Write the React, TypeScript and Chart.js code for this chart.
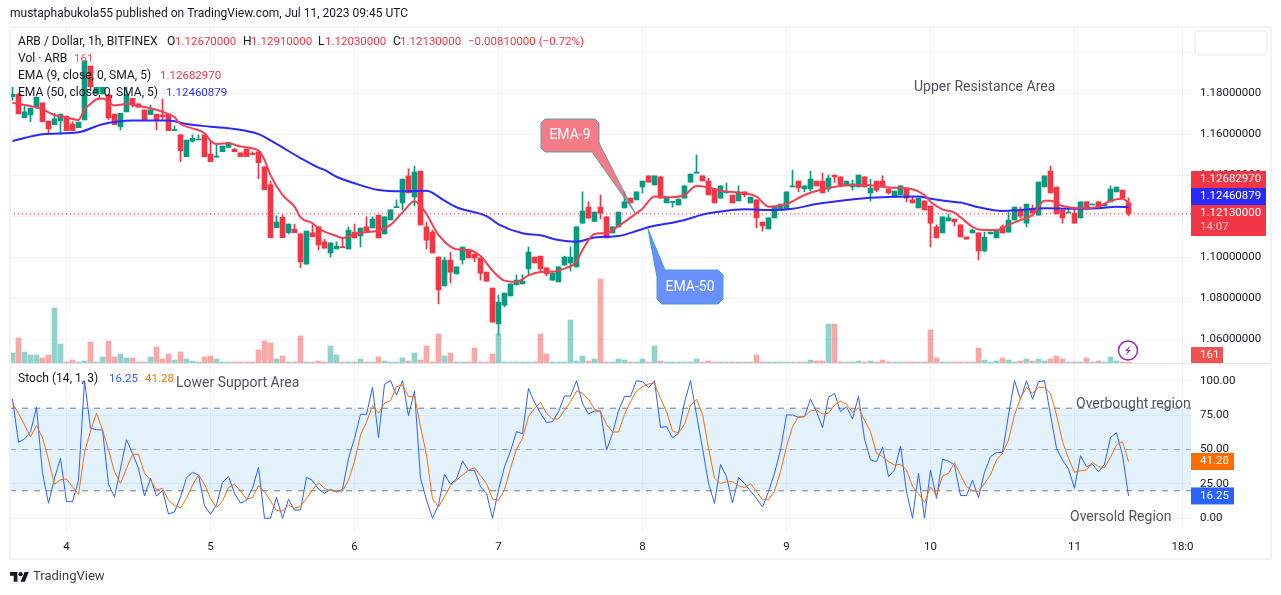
import React, { useEffect, useRef } from "react";
import { Chart, registerables } from "chart.js";

Chart.register(...registerables);

const opens = [
1.1785,1.1796,1.1682,1.1695,1.1736,1.1754,1.1666,1.1648,1.1668,1.1690,
1.1651,1.1633,1.1671,1.1934,1.1798,1.1798,1.1793,1.1700,1.1638,1.1710,
1.1776,1.1749,1.1720,1.1697,1.1700,1.1695,1.1700,1.1619,1.1598,1.1492,
1.1568,1.1573,1.1598,1.1505,1.1489,1.1516,1.1537,1.1528,1.1510,1.1529,
1.1507,1.1516,1.1442,1.1354,1.1146,1.1196,1.1121,1.1139,1.1115,1.0968,
1.1120,1.1149,1.1076,1.1022,1.1042,1.1053,1.1042,1.1124,1.1105,1.1149,
1.1144,1.1207,1.1115,1.1183,1.1243,1.1266,1.1398,1.1295,1.1422,1.1149,
1.1124,1.1002,1.0861,1.0988,1.0920,1.0988,1.1037,1.1017,1.0998,1.0929,
1.0851,1.0676,1.0768,1.0812,1.0866,1.0871,1.0944,1.1002,1.1007,1.0949,
1.0890,1.0881,1.0963,1.0973,1.0954,1.1168,1.1246,1.1176,1.1246,1.1198,
1.1120,1.1149,1.1242,1.1290,1.1281,1.1344,1.1398,1.1354,1.1393,1.1266,
1.1269,1.1256,1.1290,1.1368,1.1411,1.1398,1.1373,1.1334,1.1290,1.1316,
1.1305,1.1276,1.1320,1.1266,1.1281,1.1173,1.1139,1.1193,1.1232,1.1237,
1.1344,1.1373,1.1334,1.1334,1.1373,1.1373,1.1334,1.1402,1.1393,1.1354,
1.1344,1.1344,1.1393,1.1315,1.1373,1.1373,1.1334,1.1295,1.1305,1.1339,
1.1281,1.1242,1.1276,1.1251,1.1149,1.1120,1.1178,1.1188,1.1159,1.1100,
1.1120,1.1120,1.1032,1.1115,1.1095,1.1149,1.1124,1.1183,1.1232,1.1168,
1.1237,1.1207,1.1344,1.1422,1.1344,1.1232,1.1217,1.1217,1.1193,1.1271,
1.1256,1.1271,1.1251,1.1271,1.1320,1.1329,1.1267];
const highs = [
1.1830,1.1801,1.1736,1.1729,1.1783,1.1754,1.1666,1.1703,1.1700,1.1690,
1.1663,1.1661,1.1959,1.1934,1.1830,1.1830,1.1793,1.1700,1.1703,1.1830,
1.1776,1.1749,1.1720,1.1744,1.1700,1.1773,1.1700,1.1642,1.1598,1.1573,
1.1598,1.1598,1.1598,1.1565,1.1554,1.1544,1.1560,1.1533,1.1510,1.1529,
1.1516,1.1516,1.1442,1.1373,1.1203,1.1207,1.1163,1.1163,1.1115,1.1129,
1.1159,1.1149,1.1089,1.1071,1.1076,1.1094,1.1149,1.1163,1.1144,1.1198,
1.1198,1.1207,1.1198,1.1232,1.1281,1.1383,1.1432,1.1446,1.1422,1.1173,
1.1134,1.1002,1.1002,1.1027,1.0954,1.1051,1.1037,1.1017,1.0998,1.0929,
1.0851,1.0817,1.0827,1.0871,1.0915,1.0915,1.1051,1.1002,1.1007,1.0949,
1.0924,1.0954,1.1007,1.1051,1.1149,1.1320,1.1271,1.1222,1.1305,1.1198,
1.1149,1.1222,1.1320,1.1290,1.1320,1.1373,1.1398,1.1398,1.1393,1.1294,
1.1274,1.1285,1.1349,1.1407,1.1500,1.1398,1.1388,1.1334,1.1349,1.1363,
1.1305,1.1349,1.1320,1.1295,1.1281,1.1173,1.1193,1.1246,1.1261,1.1320,
1.1427,1.1373,1.1349,1.1422,1.1373,1.1412,1.1402,1.1402,1.1393,1.1373,
1.1378,1.1402,1.1393,1.1383,1.1373,1.1398,1.1334,1.1324,1.1349,1.1339,
1.1295,1.1290,1.1276,1.1251,1.1159,1.1198,1.1212,1.1188,1.1159,1.1100,
1.1139,1.1120,1.1124,1.1124,1.1134,1.1159,1.1222,1.1246,1.1246,1.1261,
1.1256,1.1368,1.1398,1.1446,1.1344,1.1232,1.1246,1.1246,1.1271,1.1271,
1.1261,1.1271,1.1261,1.1349,1.1344,1.1329,1.1291];
const lows = [
1.1768,1.1700,1.1682,1.1663,1.1728,1.1663,1.1606,1.1648,1.1601,1.1619,
1.1619,1.1633,1.1671,1.1817,1.1798,1.1798,1.1674,1.1648,1.1622,1.1710,
1.1733,1.1733,1.1671,1.1697,1.1622,1.1674,1.1619,1.1619,1.1468,1.1492,
1.1563,1.1573,1.1492,1.1468,1.1489,1.1516,1.1537,1.1516,1.1492,1.1492,
1.1500,1.1385,1.1331,1.1097,1.1146,1.1097,1.1115,1.1121,1.0949,1.0968,
1.1102,1.1037,1.1046,1.1002,1.1042,1.1048,1.1042,1.1095,1.1051,1.1129,
1.1144,1.1095,1.1115,1.1183,1.1243,1.1232,1.1315,1.1251,1.1159,1.1042,
1.1022,1.0773,1.0861,1.0876,1.0920,1.0968,1.0998,1.0978,1.0890,1.0885,
1.0685,1.0622,1.0759,1.0812,1.0866,1.0871,1.0915,1.0973,1.0934,1.0910,
1.0890,1.0881,1.0963,1.0934,1.0954,1.1168,1.1188,1.1176,1.1188,1.1095,
1.1120,1.1149,1.1242,1.1266,1.1281,1.1315,1.1368,1.1354,1.1290,1.1266,
1.1246,1.1256,1.1290,1.1368,1.1411,1.1373,1.1305,1.1266,1.1290,1.1313,
1.1266,1.1276,1.1295,1.1266,1.1144,1.1129,1.1139,1.1193,1.1232,1.1237,
1.1344,1.1320,1.1320,1.1324,1.1349,1.1315,1.1320,1.1368,1.1354,1.1354,
1.1329,1.1344,1.1344,1.1276,1.1320,1.1344,1.1310,1.1295,1.1305,1.1271,
1.1266,1.1242,1.1232,1.1051,1.1095,1.1120,1.1178,1.1154,1.1100,1.1090,
1.1120,1.0988,1.1027,1.1115,1.1095,1.1120,1.1124,1.1183,1.1193,1.1149,
1.1202,1.1207,1.1344,1.1315,1.1212,1.1168,1.1217,1.1168,1.1193,1.1237,
1.1256,1.1246,1.1251,1.1271,1.1320,1.1290,1.1203];
const closes = [
1.1796,1.1700,1.1710,1.1729,1.1783,1.1663,1.1627,1.1676,1.1700,1.1619,
1.1619,1.1661,1.1959,1.1833,1.1830,1.1830,1.1681,1.1648,1.1703,1.1793,
1.1749,1.1733,1.1671,1.1720,1.1671,1.1687,1.1619,1.1622,1.1521,1.1573,
1.1581,1.1578,1.1492,1.1468,1.1495,1.1544,1.1560,1.1516,1.1492,1.1492,
1.1503,1.1463,1.1331,1.1097,1.1173,1.1097,1.1163,1.1121,1.0978,1.1129,
1.1102,1.1061,1.1046,1.1071,1.1056,1.1048,1.1134,1.1095,1.1144,1.1129,
1.1188,1.1095,1.1198,1.1232,1.1246,1.1383,1.1315,1.1417,1.1159,1.1085,
1.1022,1.0842,1.0988,1.0929,1.0954,1.1051,1.0998,1.0998,1.0924,1.0885,
1.0685,1.0783,1.0827,1.0871,1.0890,1.0885,1.1027,1.0973,1.0944,1.0920,
1.0924,1.0954,1.1002,1.1002,1.1149,1.1227,1.1193,1.1222,1.1216,1.1095,
1.1149,1.1222,1.1271,1.1266,1.1320,1.1373,1.1368,1.1398,1.1290,1.1294,
1.1274,1.1285,1.1349,1.1407,1.1417,1.1373,1.1305,1.1266,1.1349,1.1320,
1.1266,1.1320,1.1306,1.1295,1.1193,1.1154,1.1193,1.1246,1.1261,1.1320,
1.1349,1.1339,1.1349,1.1383,1.1349,1.1315,1.1388,1.1393,1.1354,1.1373,
1.1359,1.1402,1.1344,1.1339,1.1329,1.1344,1.1315,1.1324,1.1349,1.1290,
1.1266,1.1290,1.1232,1.1168,1.1095,1.1198,1.1193,1.1173,1.1100,1.1090,
1.1134,1.1032,1.1100,1.1124,1.1134,1.1120,1.1183,1.1246,1.1202,1.1261,
1.1217,1.1368,1.1398,1.1315,1.1212,1.1193,1.1222,1.1168,1.1271,1.1237,
1.1261,1.1246,1.1261,1.1334,1.1344,1.1290,1.1213];
const volumes = [
1600,4000,1760,1280,1280,800,1280,8800,3040,160,
480,160,320,3360,160,960,3520,960,1440,800,
800,160,160,960,2560,640,1440,480,1760,640,
320,160,960,1120,640,160,160,160,160,160,
160,2080,3520,3200,640,1120,160,160,4320,160,
160,320,160,2720,1280,160,160,160,640,160,
160,960,320,160,160,800,320,1600,480,2720,
160,4640,1120,1600,160,160,160,2400,160,160,
1440,4640,160,160,160,160,160,160,4640,1440,
160,160,160,6880,320,1120,320,640,13440,160,
160,640,480,160,160,640,160,2720,320,160,
160,160,160,160,640,160,320,160,160,160,
160,160,160,160,1280,160,160,160,160,160,
160,160,160,480,320,320,6240,6240,160,160,
160,320,160,320,160,480,160,160,160,160,
160,160,160,5280,800,160,160,160,160,160,
160,2400,480,160,320,800,480,160,320,640,
320,640,320,640,1120,640,160,160,160,800,
160,320,160,960,320,160,161];
const ema9Bars = [0,1,3,5,7,9,11,12,13,14,15,17,19,21,23,25,27,28,30,32,33,34,36,38,41,42,43,45,47,48,50,51,52,54,55,57,59,61,63,65,67,69,70,71,74,76,78,80,82,84,86,88,90,92,94,95,97,99,101,104,105,107,110,112,114,116,118,121,124,126,129,132,135,138,142,146,150,152,153,155,157,158,160,161,164,166,168,170,172,173,175,178,181,183,185,186];
const ema9Values = [1.1755,1.1749,1.1739,1.1723,1.1695,1.1684,1.1671,1.1723,1.1749,1.1772,1.1776,1.1742,1.1749,1.1739,1.1728,1.1711,1.1684,1.1651,1.1630,1.1606,1.1570,1.1554,1.1557,1.1541,1.1521,1.1476,1.1402,1.1305,1.1248,1.1196,1.1167,1.1142,1.1126,1.1105,1.1095,1.1115,1.1124,1.1131,1.1159,1.1220,1.1274,1.1212,1.1159,1.1110,1.1040,1.1037,1.1007,1.0936,1.0887,1.0881,1.0913,1.0929,1.0931,1.0946,1.0980,1.1037,1.1115,1.1120,1.1154,1.1216,1.1238,1.1297,1.1294,1.1305,1.1349,1.1342,1.1326,1.1316,1.1297,1.1248,1.1261,1.1305,1.1333,1.1349,1.1354,1.1342,1.1333,1.1305,1.1272,1.1235,1.1219,1.1196,1.1150,1.1137,1.1134,1.1159,1.1183,1.1207,1.1277,1.1277,1.1251,1.1240,1.1248,1.1277,1.1287,1.12683];
const ema50Bars = [0,5,11,15,20,26,29,33,37,41,44,48,51,52,54,57,61,65,69,72,74,79,81,85,88,91,94,97,101,104,105,107,110,112,115,118,122,127,130,134,138,142,146,151,153,157,158,161,165,168,172,177,181,184,186];
const ema50Values = [1.1568,1.1601,1.1611,1.1650,1.1668,1.1668,1.1651,1.1638,1.1627,1.1602,1.1554,1.1485,1.1438,1.1427,1.1394,1.1362,1.1329,1.1323,1.1326,1.1277,1.1245,1.1202,1.1162,1.1118,1.1108,1.1085,1.1077,1.1098,1.1105,1.1129,1.1139,1.1155,1.1170,1.1183,1.1209,1.1224,1.1235,1.1232,1.1238,1.1261,1.1277,1.1289,1.1295,1.1297,1.1287,1.1271,1.1268,1.1245,1.1227,1.1232,1.1240,1.1238,1.1240,1.1248,1.12461];
const stochK = [
86.7,55.2,57.6,63.0,80.6,32.7,10.9,29.1,43.6,12.1,12.1,27.8,100,65.4,64.4,64.2,24.7,15.5,36.3,57.1,47.2,36.3,16.2,29.1,16.2,20.3,3.1,4.6,15.5,29.5,33.4,31.5,9.2,2.9,9.7,26.1,30.3,18.1,11.1,13.1,21.8,37.0,0,0,15.2,0,13.8,6.0,6.0,29.8,27.4,21.3,
18.1,21.1,19.1,21.1,43.6,58.1,75.6,75.6,95.2,58.6,97.4,100,89.6,100,74.6,92.5,29.1,13.3,0,9.7,32.0,24.7,28.6,41.6,34.9,34.9,23.0,18.1,0,20.6,37.5,48.9,63.0,61.5,94.4,84.3,76.3,69.7,70.2,77.5,88.9,88.9,100,83.5,75.8,78.0,78.0,49.6,61.7,78.0,88.6,88.6,100,
99.3,94.9,100,66.1,66.6,58.6,61.7,84.3,100,75.1,50.9,25.4,10.9,39.2,30.3,11.1,29.5,25.4,19.8,14.5,8.2,19.4,32.7,49.6,75.1,75.1,73.4,73.9,86.7,77.5,65.9,87.9,90.8,77.5,81.1,72.2,88.6,57.6,42.4,41.2,51.6,30.3,35.1,52.5,19.4,0,32.7,0,35.1,14.5,42.9,41.6,38.7,
16.5,16.5,27.8,15.0,33.4,44.8,47.9,47.9,75.1,100,86.5,100,86.5,99.3,100,75.1,50.9,42.4,35.8,21.8,45.5,37.5,39.2,33.9,39.2,58.8,62.2,46.0,16.25];
const stochD = [
83.5,76.3,67.8,59.1,67.3,58.6,42.4,24.7,28.1,28.6,23.0,17.4,47.9,63.4,76.3,64.2,49.6,33.9,25.4,36.3,46.5,46.5,32.7,27.8,20.6,21.8,13.1,9.2,7.7,14.5,24.2,31.5,24.7,14.5,7.7,12.6,22.3,24.7,19.8,14.0,15.0,23.7,19.4,12.6,5.6,5.3,9.7,7.3,8.5,14.5,20.6,25.9,
21.8,20.1,19.4,19.8,27.8,41.2,60.5,69.7,81.9,76.3,83.5,85.5,95.7,96.9,88.4,88.9,66.6,46.0,14.0,8.2,15.7,23.7,27.8,31.5,34.9,36.8,31.0,25.4,14.0,13.1,20.6,36.3,50.4,58.1,73.9,79.9,84.3,76.3,72.2,72.2,78.7,84.8,92.5,90.8,86.5,79.2,77.5,68.3,62.7,62.7,75.6,84.8,92.5,
95.7,97.6,98.1,87.2,77.5,63.4,62.0,68.3,81.9,86.5,75.6,50.9,29.1,25.2,26.6,26.6,23.7,22.3,25.2,19.4,13.5,13.5,19.8,33.9,52.1,66.6,73.9,73.9,78.0,78.7,75.8,76.3,82.3,85.2,82.8,77.0,80.4,71.4,63.0,47.2,44.8,41.2,38.7,39.2,35.1,23.0,18.1,11.6,22.8,16.9,30.7,32.7,40.4,
31.5,23.0,20.1,19.4,25.4,31.5,42.4,47.2,56.9,75.1,87.2,95.2,90.8,95.2,95.2,90.8,75.1,55.7,43.6,33.4,34.6,35.1,40.7,37.5,37.0,44.3,53.3,55.7,41.28];
const priceTicks = [1.06, 1.08, 1.1, 1.12, 1.14, 1.16, 1.18, 1.2];
const stochTicks = [0, 25, 50, 75, 100];
const stochLevels = [80, 50, 20];
const dayBars = [9, 33, 57, 81, 105, 129, 153, 177, 195];
const dayLabels = ["4", "5", "6", "7", "8", "9", "10", "11", "18:0"];

const UP = "#089981";
const DOWN = "#f23645";
const FONT = "Roboto";
const TXT = "#131722";
const GREY = "#50535e";
const LABEL = 12.1;
const NUM = 11.5;

const tone = { up: "rgba(38,166,154,0.5)", down: "rgba(239,83,80,0.5)" };

function text(ctx: CanvasRenderingContext2D, s: string, x: number, y: number, color: string, size = NUM, align: CanvasTextAlign = "left") {
  ctx.fillStyle = color;
  ctx.font = `${size}px ${FONT}`;
  ctx.textAlign = align;
  ctx.textBaseline = "middle";
  ctx.fillText(s, x, y);
}

function tag(ctx: CanvasRenderingContext2D, x: number, y: number, w: number, h: number, color: string) {
  ctx.fillStyle = color;
  ctx.fillRect(x, y, w, h);
}

function callout(ctx: CanvasRenderingContext2D, pts: number[][], fill: string, stroke: string) {
  ctx.beginPath();
  pts.forEach((p, i) => (i ? ctx.lineTo(p[0], p[1]) : ctx.moveTo(p[0], p[1])));
  ctx.closePath();
  ctx.lineJoin = "round";
  ctx.fillStyle = fill;
  ctx.fill();
  ctx.strokeStyle = stroke;
  ctx.lineWidth = 1;
  ctx.stroke();
}

const chrome = {
  id: "chrome",
  beforeDraw(chart: any) {
    const ctx = chart.ctx;
    ctx.save();
    ctx.fillStyle = "#ffffff";
    ctx.fillRect(0, 0, chart.width, chart.height);
    ctx.restore();
  },
  beforeDatasetsDraw(chart: any) {
    const { ctx, chartArea, scales } = chart;
    const t = scales.yStoch.getPixelForValue(stochLevels[0]);
    const b = scales.yStoch.getPixelForValue(stochLevels[2]);
    ctx.save();
    ctx.fillStyle = "rgba(33,150,243,0.12)";
    ctx.fillRect(chartArea.left, t, chartArea.right - chartArea.left, b - t);
    ctx.restore();
  },
  afterDraw(chart: any) {
    const { ctx, scales } = chart;
    ctx.save();
    // frame
    ctx.strokeStyle = "#f0f3fa";
    ctx.lineWidth = 2;
    ctx.strokeRect(10, 27, 1261, 532);
    ctx.strokeStyle = "#e0e3eb";
    ctx.lineWidth = 1;
    ctx.beginPath();
    ctx.moveTo(10, 363.5);
    ctx.lineTo(1271, 363.5);
    ctx.stroke();

    text(ctx, "mustaphabukola55 published on TradingView.com, Jul 11, 2023 09:45 UTC", 10, 14, TXT, 12);

    // legend
    text(ctx, "ARB / Dollar, 1h, BITFINEX", 18, 42, TXT, LABEL);
    [["O", 167, "1.12670000", 175], ["H", 243, "1.12910000", 251], ["L", 318, "1.12030000", 325], ["C", 393, "1.12130000", 400]].forEach((r: any) => {
      text(ctx, r[0], r[1], 42, TXT, LABEL);
      text(ctx, r[2], r[3], 42, DOWN);
    });
    text(ctx, "\u22120.00810000 (\u22120.72%)", 468, 42, DOWN);
    text(ctx, "Vol \u00b7 ARB", 18, 59, TXT, LABEL);
    text(ctx, "161", 74, 59, "#ef5350");
    text(ctx, "EMA (9, close, 0, SMA, 5)", 18, 76, TXT, LABEL);
    text(ctx, "1.12682970", 160, 76, DOWN);
    text(ctx, "EMA (50, close, 0, SMA, 5)", 18, 93, TXT, LABEL);
    text(ctx, "1.12460879", 166, 93, "#3030ff");
    text(ctx, "Stoch (14, 1, 3)", 18, 379, TXT, LABEL);
    text(ctx, "16.25", 109, 379, "#2962ff");
    text(ctx, "41.28", 145, 379, "#ff6d00");

    // drawn notes
    text(ctx, "Upper Resistance Area", 914, 87, GREY, 14);
    text(ctx, "Lower Support Area", 176, 383, GREY, 14);
    text(ctx, "Oversold Region", 1070, 517, GREY, 14);
    ctx.save();
    ctx.beginPath();
    ctx.rect(10, 364, 1181, 168);
    ctx.clip();
    text(ctx, "Overbought region", 1076, 404, GREY, 14);
    ctx.restore();

    callout(ctx, [[545, 119], [595, 119], [599, 123], [599, 143], [635, 213], [592, 152], [545, 152], [541, 148], [541, 123]], "rgba(242,90,105,0.8)", "#5f9ea8");
    text(ctx, "EMA-9", 570, 135, "#ffffff", 14, "center");
    callout(ctx, [[648, 229], [665, 270], [718, 270], [723, 275], [723, 299], [718, 304], [662, 304], [657, 299], [657, 277]], "rgba(80,125,255,0.85)", "#3ea0c8");
    text(ctx, "EMA-50", 690, 287, "#ffffff", 14, "center");

    // pinned box on the price scale
    ctx.fillStyle = "#ffffff";
    ctx.strokeStyle = "#eceef4";
    ctx.lineWidth = 1.5;
    ctx.beginPath();
    ctx.roundRect(1195, 31, 72, 24, 4);
    ctx.fill();
    ctx.stroke();

    // value tags
    tag(ctx, 1191, 171, 75, 17, DOWN);
    text(ctx, "1.12682970", 1200, 179.5, "#ffffff");
    tag(ctx, 1191, 188, 75, 17, "#2a2aff");
    text(ctx, "1.12460879", 1200, 196.5, "#ffffff");
    tag(ctx, 1191, 205, 75, 31, DOWN);
    text(ctx, closes[closes.length - 1].toFixed(8), 1200, 213.5, "#ffffff");
    text(ctx, "14:07", 1200, 227.5, "rgba(255,255,255,0.7)");
    tag(ctx, 1191, 347, 32, 16, "#ef5350");
    text(ctx, String(volumes[volumes.length - 1]), 1200, 355.5, "#ffffff");
    const yD = scales.yStoch.getPixelForValue(stochD[stochD.length - 1]);
    tag(ctx, 1191, yD - 8.5, 43, 17, "#ff6d00");
    text(ctx, stochD[stochD.length - 1].toFixed(2), 1200, yD, "#ffffff");
    const yK = scales.yStoch.getPixelForValue(stochK[stochK.length - 1]);
    tag(ctx, 1191, yK - 8.5, 43, 17, "#2962ff");
    text(ctx, stochK[stochK.length - 1].toFixed(2), 1200, yK, "#ffffff");

    // lightning badge
    ctx.strokeStyle = "#9c27b0";
    ctx.lineWidth = 1.5;
    ctx.beginPath();
    ctx.arc(1128, 350.5, 9.5, 0, Math.PI * 2);
    ctx.stroke();
    ctx.fillStyle = "#9c27b0";
    ctx.beginPath();
    [[1131, 345], [1125, 351], [1128, 351], [1125, 356], [1131, 350], [1128, 350]].forEach((p, i) => (i ? ctx.lineTo(p[0], p[1]) : ctx.moveTo(p[0], p[1])));
    ctx.closePath();
    ctx.fill();

    // footer logo
    ctx.save();
    ctx.translate(10, 570);
    ctx.scale(0.53, 0.53);
    ctx.fillStyle = "#131722";
    ctx.fill(new Path2D("M14 22H7V11H0V4h14v18zM28 22h-8l7.5-18h8L28 22z"));
    ctx.beginPath();
    ctx.arc(20, 8, 4, 0, Math.PI * 2);
    ctx.fill();
    ctx.restore();
    text(ctx, "TradingView", 33, 577, "#3b3e48", 13);
    ctx.restore();
  },
};

export default function App() {
  const ref = useRef<HTMLCanvasElement>(null);
  useEffect(() => {
    const XMIN = -0.41667;
    const XMAX = 196.41667;
    const idx = opens.map((_, i) => i);
    const isUp = idx.map((i) => closes[i] >= opens[i]);
    const line = (bars: number[], vals: number[], color: string, width: number, order: number, yAxisID: string, smooth = false): any => ({
      type: "line",
      data: bars.map((b, i) => ({ x: b, y: vals[i] })),
      borderColor: color,
      borderWidth: width,
      pointRadius: 0,
      yAxisID,
      order,
      cubicInterpolationMode: smooth ? "monotone" : "default",
      tension: 0,
    });
    const level = (v: number, color: string, dash: number[], yAxisID: string, order: number): any => ({
      type: "line",
      data: [{ x: XMIN, y: v }, { x: XMAX, y: v }],
      borderColor: color,
      borderWidth: 1,
      borderDash: dash,
      pointRadius: 0,
      yAxisID,
      order,
    });
    const barCommon = { grouped: false, categoryPercentage: 1, barPercentage: 1, borderWidth: 0, borderSkipped: false };
    const chart = new Chart(ref.current as HTMLCanvasElement, {
      type: "bar",
      data: {
        datasets: [
          { ...barCommon, label: "Vol", data: idx.map((i) => ({ x: i, y: volumes[i] })), backgroundColor: isUp.map((u) => (u ? tone.up : tone.down)), yAxisID: "yVol", maxBarThickness: 5, minBarLength: 1, order: 20 } as any,
          { ...barCommon, label: "Wick", data: idx.map((i) => ({ x: i, y: [lows[i], highs[i]] })), backgroundColor: isUp.map((u) => (u ? UP : DOWN)), yAxisID: "yPrice", maxBarThickness: 1, order: 19 } as any,
          { ...barCommon, label: "Body", data: idx.map((i) => ({ x: i, y: [opens[i], closes[i]] })), backgroundColor: isUp.map((u) => (u ? UP : DOWN)), yAxisID: "yPrice", maxBarThickness: 5, minBarLength: 1, order: 18 } as any,
          level(closes[closes.length - 1], DOWN, [1, 3], "yPrice", 17),
          line(ema50Bars, ema50Values, "#2a2aff", 2, 16, "yPrice", true),
          line(ema9Bars, ema9Values, "#f23f52", 2, 15, "yPrice", true),
          level(stochLevels[0], "#787b86", [6, 6], "yStoch", 14),
          level(stochLevels[1], "rgba(120,123,134,0.6)", [6, 6], "yStoch", 13),
          level(stochLevels[2], "#787b86", [6, 6], "yStoch", 12),
          line(idx, stochK, "#2962ff", 1, 11, "yStoch"),
          line(idx, stochD, "#ff6d00", 1, 10, "yStoch"),
        ],
      },
      plugins: [chrome],
      options: {
        animation: false,
        responsive: false,
        devicePixelRatio: 1,
        layout: { padding: { left: 10, top: 28, right: 10, bottom: 35 } },
        plugins: { legend: { display: false }, tooltip: { enabled: false } },
        scales: {
          x: {
            type: "linear",
            offset: false,
            min: XMIN,
            max: XMAX,
            grid: { color: "#f0f3fa", drawTicks: false, offset: false },
            border: { display: false },
            afterBuildTicks: (s: any) => { s.ticks = dayBars.map((value) => ({ value })); },
            afterFit: (s: any) => { s.height = 28; },
            ticks: {
              autoSkip: false,
              maxRotation: 0,
              padding: 8,
              color: TXT,
              font: { family: FONT, size: NUM },
              callback: (v: any) => dayLabels[dayBars.indexOf(Number(v))],
            },
          },
          yPrice: {
            position: "right",
            stack: "panes",
            stackWeight: 335.5,
            weight: 0,
            min: 1.04829,
            max: 1.21195,
            grid: { color: "#f0f3fa", drawTicks: false },
            border: { display: false },
            afterBuildTicks: (s: any) => { s.ticks = priceTicks.map((value) => ({ value })); },
            afterFit: (s: any) => { s.width = 80; },
            ticks: { autoSkip: false, padding: 9, color: TXT, font: { family: FONT, size: NUM }, callback: (v: any) => Number(v).toFixed(8) },
          },
          yStoch: {
            position: "right",
            stack: "panes",
            stackWeight: 168.5,
            weight: 1,
            min: -9.96,
            max: 112.5,
            grid: { color: "#f0f3fa", drawTicks: false },
            border: { display: false },
            afterBuildTicks: (s: any) => { s.ticks = stochTicks.map((value) => ({ value })); },
            afterFit: (s: any) => { s.width = 80; },
            ticks: { autoSkip: false, padding: 9, color: TXT, font: { family: FONT, size: NUM }, callback: (v: any) => Number(v).toFixed(2) },
          },
          yVol: { display: false, position: "right", min: -27040, max: 53600 },
        },
      } as any,
    });
    return () => chart.destroy();
  }, []);
  return <canvas ref={ref} width={1281} height={595} style={{ position: "fixed", left: 0, top: 0, display: "block" }} />;
}
